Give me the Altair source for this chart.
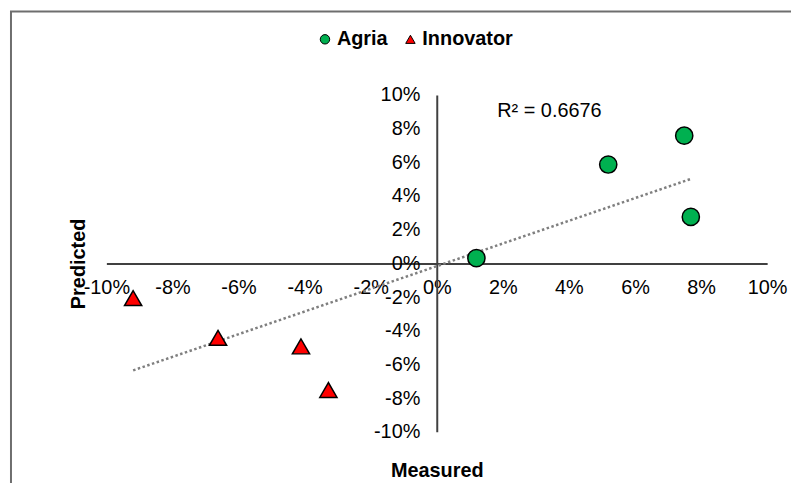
import altair as alt
import pandas as pd

# ---- data ----
series = ["Agria", "Innovator"]
agria_measured = [0.0120, 0.0519, 0.0749, 0.0769]
agria_predicted = [0.0031, 0.0587, 0.0758, 0.0276]
innovator_measured = [-0.0919, -0.0662, -0.0411, -0.0328]
innovator_predicted = [-0.0206, -0.0442, -0.0493, -0.0752]
tick_values = [-0.1, -0.08, -0.06, -0.04, -0.02, 0.0, 0.02, 0.04, 0.06, 0.08, 0.1]
r2_label = ["R² = 0.6676"]
r2_measured = [0.0341]
r2_predicted = [0.0906]

rows = []
for m, p in zip(agria_measured, agria_predicted):
    rows.append({"Measured": m, "Predicted": p, "Variety": "Agria"})
for m, p in zip(innovator_measured, innovator_predicted):
    rows.append({"Measured": m, "Predicted": p, "Variety": "Innovator"})
df = pd.DataFrame(rows)
r2_df = pd.DataFrame({"Measured": r2_measured, "Predicted": r2_predicted, "label": r2_label})

W, H = 665, 339
FONT = "Liberation Sans"
LABEL_EXPR = "replace(format(datum.value, '.0%'), '\u2212', '-')"

xscale = alt.Scale(domain=[-0.1, 0.1], nice=False, zero=False)
yscale = alt.Scale(domain=[-0.1, 0.1], nice=False, zero=False)

x_axis = alt.Axis(
    values=tick_values, labelExpr=LABEL_EXPR, offset=-H / 2, ticks=False, grid=False,
    domainColor="#404040", domainWidth=2,
    labelFont=FONT, labelFontSize=20, labelColor="#000000", labelPadding=14,
    labelFlush=False, labelOverlap=False, labelBound=False,
    title="Measured", titleFont=FONT, titleFontSize=20, titleFontWeight="bold",
    titleColor="#000000", titleX=W / 2, titleY=214.5, titleBaseline="alphabetic",
    titleAlign="center",
)
y_axis = alt.Axis(
    values=tick_values, labelExpr=LABEL_EXPR, offset=-W / 2, ticks=False, grid=False,
    domainColor="#404040", domainWidth=2,
    labelFont=FONT, labelFontSize=20, labelColor="#000000", labelPadding=17,
    labelFlush=False, labelOverlap=False, labelBound=False,
    title="Predicted", titleFont=FONT, titleFontSize=20, titleFontWeight="bold",
    titleColor="#000000", titleAngle=270, titleX=-355, titleY=H / 2,
    titleBaseline="alphabetic", titleAlign="center",
)

X = alt.X("Measured:Q", scale=xscale, axis=x_axis)
Y = alt.Y("Predicted:Q", scale=yscale, axis=y_axis)

legend = alt.Legend(
    title=None, orient="none", legendX=210, legendY=-66, direction="horizontal",
    labelFont=FONT, labelFontSize=20, labelFontWeight="bold", labelColor="#000000",
    symbolSize=90, symbolStrokeColor="#000000", symbolStrokeWidth=1,
    labelOffset=2, columnPadding=12,
)

frame = alt.Chart(pd.DataFrame({"a": [0]})).mark_rect(
    fill="transparent", stroke="#6e6e6e", strokeWidth=2
).encode(x=alt.value(-96), x2=alt.value(900), y=alt.value(-84), y2=alt.value(700))

trend = alt.Chart(df).transform_regression("Measured", "Predicted").mark_line(
    color="#7f7f7f", strokeWidth=2.5, strokeDash=[2.5, 2.5]
).encode(x=X, y=Y)

points = alt.Chart(df).mark_point(
    filled=True, size=300, stroke="#000000", strokeWidth=1.5, opacity=1
).encode(
    x=X, y=Y,
    color=alt.Color("Variety:N", scale=alt.Scale(domain=series, range=["#00B050", "#FF0000"]), legend=legend),
    shape=alt.Shape("Variety:N", scale=alt.Scale(domain=series, range=["circle", "triangle-up"]), legend=legend),
)

r2 = alt.Chart(r2_df).mark_text(font=FONT, fontSize=20, color="#000000", baseline="middle").encode(
    x=X, y=Y, text="label:N"
)

chart = alt.layer(frame, trend, points, r2).properties(
    width=W, height=H,
    padding={"left": 99, "top": 86, "right": 24, "bottom": 50},
    autosize=alt.AutoSizeParams(type="none"),
).configure_view(strokeWidth=0)

chart.save("out.html", embed_options={"renderer": "svg", "actions": False})
